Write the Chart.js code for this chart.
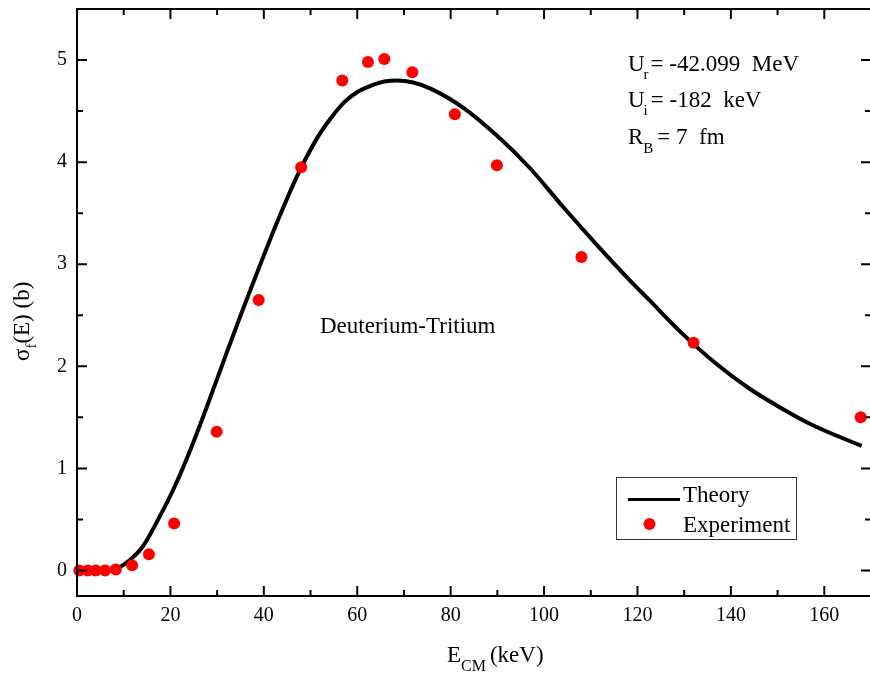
<!DOCTYPE html>
<html lang="en">
<head>
<meta charset="UTF-8">
<title>Deuterium-Tritium fusion cross section</title>
<style>
  html, body { margin: 0; padding: 0; background: #fff; overflow: hidden; }
  #wrap { width: 870px; height: 677px; overflow: hidden; }
</style>
</head>
<body>
<div id="wrap"><canvas id="dtChart" width="877" height="677"></canvas></div>

<script src="https://cdn.jsdelivr.net/npm/chart.js"></script>
<script>
// theory curve
const theoryE = [0, 4, 8, 9, 11, 14, 17.5, 21, 24.6, 28.1, 31.7, 35.2, 39.6, 43.1, 47.4, 51.6,
                 54.5, 57.3, 60.1, 63, 65.8, 68.6, 72, 75.7, 82.8, 89.9, 97, 104.1, 111.1, 118.2,
                 122.5, 129.6, 136.6, 143.7, 150.8, 157.9, 168];
const theorySigma = [0, 0, 0.01, 0.03, 0.09, 0.23, 0.51, 0.83, 1.22, 1.64, 2.09, 2.52, 3.04, 3.44, 3.89, 4.25,
                     4.44, 4.59, 4.69, 4.75, 4.79, 4.80, 4.78, 4.72, 4.53, 4.26, 3.94, 3.56, 3.20, 2.85,
                     2.65, 2.32, 2.035, 1.79, 1.59, 1.415, 1.22];

// experimental points
const expE = [0.5, 2.3, 4, 6, 8.3, 11.8, 15.4, 20.8, 29.9, 38.9, 48.0, 56.8, 62.3, 65.8, 71.8, 80.9, 89.9, 108, 132, 167.8];
const expSigma = [0, 0, 0, 0, 0.01, 0.05, 0.16, 0.46, 1.36, 2.65, 3.95, 4.80, 4.98, 5.01, 4.88, 4.47, 3.97, 3.07, 2.23, 1.50];

const xTicks = [0, 20, 40, 60, 80, 100, 120, 140, 160];
const xMinorTicks = [10, 30, 50, 70, 90, 110, 130, 150, 170];
const yTicks = [0, 1, 2, 3, 4, 5];
const yMinorTicks = [0.5, 1.5, 2.5, 3.5, 4.5];

const SERIF = "'Liberation Serif', 'Times New Roman', serif";

// draws text with subscript pieces
function drawParts(ctx, x, y, parts, size, subSize, subDrop) {
    parts.forEach(p => {
        ctx.font = (p.sub ? subSize : size) + 'px ' + SERIF;
        ctx.fillText(p.t, x, p.sub ? y + subDrop : y);
        x += ctx.measureText(p.t).width + (p.gap || 0);
    });
}

const frameAndText = {
    id: 'frameAndText',
    afterDraw(chart) {
        const ctx = chart.ctx;
        const a = chart.chartArea;
        const xs = chart.scales.x, ys = chart.scales.y;
        ctx.save();
        ctx.strokeStyle = '#000';
        ctx.lineWidth = 2;
        ctx.strokeRect(a.left, a.top, a.right - a.left, a.bottom - a.top);

        // inward ticks on all four sides
        ctx.beginPath();
        const tickX = (v, len) => {
            const px = xs.getPixelForValue(v);
            ctx.moveTo(px, a.bottom); ctx.lineTo(px, a.bottom - len);
            ctx.moveTo(px, a.top); ctx.lineTo(px, a.top + len);
        };
        const tickY = (v, len) => {
            const py = ys.getPixelForValue(v);
            ctx.moveTo(a.left, py); ctx.lineTo(a.left + len, py);
            ctx.moveTo(a.right, py); ctx.lineTo(a.right - len, py);
        };
        xTicks.forEach(v => tickX(v, 10));
        xMinorTicks.forEach(v => tickX(v, 6));
        yTicks.forEach(v => tickY(v, 10));
        yMinorTicks.forEach(v => tickY(v, 6));
        ctx.stroke();

        ctx.fillStyle = '#000';
        ctx.textBaseline = 'alphabetic';
        ctx.textAlign = 'left';

        // axis titles
        drawParts(ctx, 447, 662, [{t: 'E', gap: 0}, {t: 'CM', sub: true, gap: 4}, {t: '(keV)'}], 23, 16, 9);
        ctx.save();
        ctx.translate(29, 361);
        ctx.rotate(-Math.PI / 2);
        drawParts(ctx, 0, 0, [{t: 'σ'}, {t: 'f', sub: true}, {t: '(E) (b)'}], 23, 15, 7);
        ctx.restore();

        // parameters
        drawParts(ctx, 628, 71, [{t: 'U', gap: -1}, {t: 'r', sub: true, gap: 2}, {t: '= -42.099  MeV'}], 23, 15, 8);
        drawParts(ctx, 628, 107, [{t: 'U', gap: -1}, {t: 'i', sub: true, gap: 3}, {t: '= -182  keV'}], 23, 15, 8);
        drawParts(ctx, 628, 144, [{t: 'R', gap: 0}, {t: 'B', sub: true, gap: 4}, {t: '= 7  fm'}], 23, 15, 9);

        ctx.font = '23px ' + SERIF;
        ctx.fillText('Deuterium-Tritium', 320, 333);

        // legend box
        ctx.lineWidth = 1;
        ctx.strokeStyle = '#333';
        ctx.strokeRect(616.5, 477.5, 180, 62);
        ctx.strokeStyle = '#000';
        ctx.lineWidth = 3;
        ctx.beginPath();
        ctx.moveTo(628, 499.5);
        ctx.lineTo(680, 499.5);
        ctx.stroke();
        ctx.fillStyle = '#ff0000';
        ctx.beginPath();
        ctx.arc(649.5, 524, 6, 0, Math.PI * 2);
        ctx.fill();
        ctx.fillStyle = '#000';
        ctx.fillText('Theory', 683, 502);
        ctx.fillText('Experiment', 683, 532);
        ctx.restore();
    }
};

function runCrossSectionChart() {
    const ctx = document.getElementById('dtChart').getContext('2d');
    new Chart(ctx, {
        data: {
            datasets: [
                {
                    type: 'scatter',
                    label: 'Experiment',
                    data: expE.map((e, i) => ({ x: e, y: expSigma[i] })),
                    backgroundColor: '#ff0000',
                    borderWidth: 0,
                    pointRadius: 6,
                    clip: false,
                    order: 0
                },
                {
                    type: 'line',
                    label: 'Theory',
                    data: theoryE.map((e, i) => ({ x: e, y: theorySigma[i] })),
                    borderColor: '#000',
                    borderWidth: 4,
                    pointRadius: 0,
                    fill: false,
                    cubicInterpolationMode: 'monotone',
                    order: 1
                }
            ]
        },
        options: {
            responsive: false,
            animation: false,
            layout: { padding: { left: 0, top: 9, right: 0, bottom: 0 } },
            plugins: { legend: { display: false }, tooltip: { enabled: false } },
            scales: {
                x: {
                    type: 'linear',
                    min: 0,
                    max: 170,
                    grid: { display: false, drawTicks: false },
                    border: { display: false },
                    afterBuildTicks: s => { s.ticks = xTicks.map(v => ({ value: v })); },
                    afterFit: s => { s.height = 81; s.paddingLeft = 0; s.paddingRight = 0; },
                    ticks: { color: '#000', padding: 8, maxRotation: 0, font: { family: SERIF, size: 20 } }
                },
                y: {
                    type: 'linear',
                    min: -0.25,
                    max: 5.5,
                    grid: { display: false, drawTicks: false },
                    border: { display: false },
                    afterBuildTicks: s => { s.ticks = yTicks.map(v => ({ value: v })); },
                    afterFit: s => { s.width = 77; s.paddingTop = 0; s.paddingBottom = 0; },
                    ticks: { color: '#000', padding: 10, font: { family: SERIF, size: 20 } }
                }
            }
        },
        plugins: [frameAndText]
    });
}

window.onload = runCrossSectionChart;
</script>
</body>
</html>
